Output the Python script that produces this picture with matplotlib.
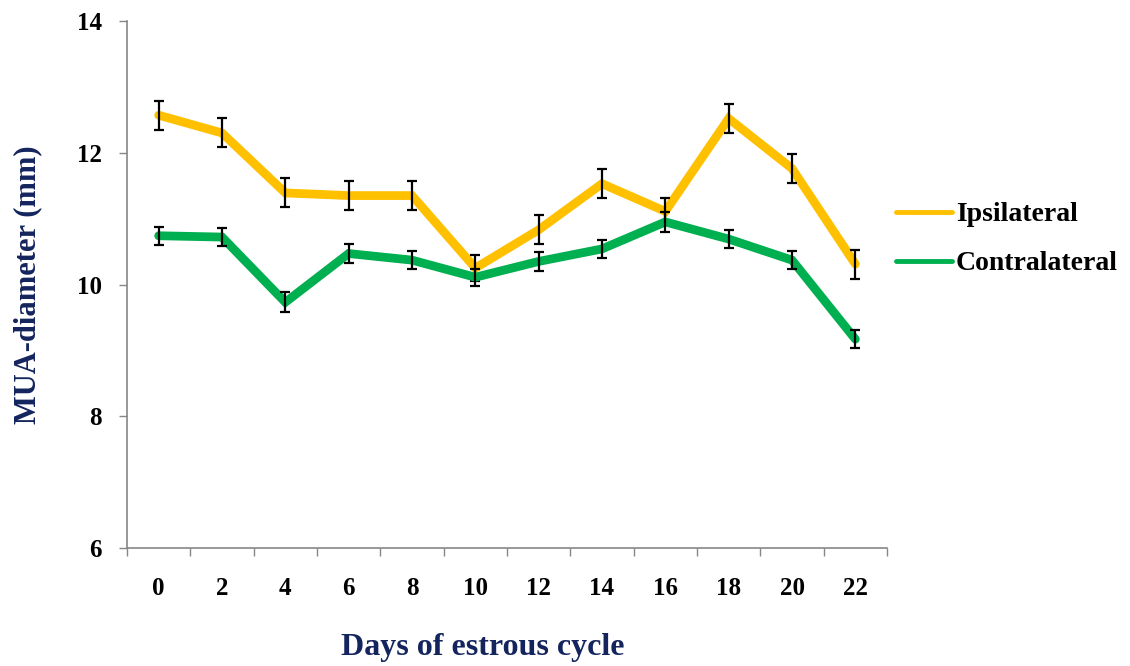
import matplotlib
matplotlib.use("Agg")
import matplotlib.pyplot as plt
import numpy as np

days = ["0", "2", "4", "6", "8", "10", "12", "14", "16", "18", "20", "22"]
ipsi = [12.57, 12.30, 11.39, 11.35, 11.35, 10.25, 10.83, 11.53, 11.11, 12.52, 11.76, 10.31]
ipsi_err = [0.22, 0.22, 0.22, 0.22, 0.22, 0.20, 0.22, 0.22, 0.20, 0.22, 0.22, 0.22]
contra = [10.74, 10.72, 9.73, 10.47, 10.37, 10.11, 10.35, 10.54, 10.95, 10.69, 10.37, 9.17]
contra_err = [0.14, 0.14, 0.15, 0.14, 0.14, 0.13, 0.14, 0.14, 0.15, 0.14, 0.14, 0.14]

plt.rcParams['font.family'] = ['Liberation Serif', 'DejaVu Serif']
plt.rcParams['font.weight'] = 'bold'

fig = plt.figure(figsize=(11.3, 6.66), dpi=100)
ax = fig.add_axes([127/1130, 1-548/666, 760/1130, 527/666])

x = np.arange(len(days))
navy = "#14255E"
ax.plot(x, ipsi, color="#FFC000", lw=6.3, solid_capstyle="round", solid_joinstyle="miter", zorder=2, label="Ipsilateral")
ax.errorbar(x, ipsi, yerr=ipsi_err, fmt="none", ecolor="black", elinewidth=1.6, capsize=3.6, capthick=1.6, zorder=3)
ax.plot(x, contra, color="#00B050", lw=6.3, solid_capstyle="round", solid_joinstyle="miter", zorder=4, label="Contralateral")
ax.errorbar(x, contra, yerr=contra_err, fmt="none", ecolor="black", elinewidth=1.6, capsize=3.6, capthick=1.6, zorder=5)

ax.set_xlim(-0.5, len(days) - 0.5)
ax.set_ylim(6, 14)
ax.set_yticks([6, 8, 10, 12, 14])
ax.set_yticklabels(["6", "8", "10", "12", "14"], fontsize=18, fontweight="bold")

ax.set_xticks(np.arange(-0.5, len(days), 1.0))
ax.set_xticklabels([])
ax.set_xticks(x, minor=True)
ax.set_xticklabels(days, minor=True, fontsize=18, fontweight="bold")
ax.tick_params(axis="x", which="major", length=6, width=1, color="#868686", direction="out")
ax.tick_params(axis="x", which="minor", length=0, pad=21)
ax.tick_params(axis="y", length=6, width=1, color="#868686", direction="out", pad=12)

for s in ["top", "right"]:
    ax.spines[s].set_visible(False)
for s in ["left", "bottom"]:
    ax.spines[s].set_color("#868686")
    ax.spines[s].set_linewidth(1.2)

ax.set_xlabel("Days of estrous cycle", fontsize=23, fontweight="bold", color=navy, va="center")
ax.xaxis.set_label_coords((483 - 127) / 760, (548 - 648) / 527)
ax.set_ylabel("MUA-diameter (mm)", fontsize=22, fontweight="bold", color=navy, va="center")
ax.yaxis.set_label_coords((28 - 127) / 760, 0.5)

leg = fig.legend(loc="upper left", bbox_to_anchor=(896/1130, 1-202/666), frameon=False,
                 prop={"size": 20, "weight": "bold"}, handlelength=2.0, handletextpad=0.15,
                 labelspacing=0.85, borderpad=0, borderaxespad=0)
for ln in leg.get_lines():
    ln.set_linewidth(3.5)

fig.savefig("out.png", dpi=100)
